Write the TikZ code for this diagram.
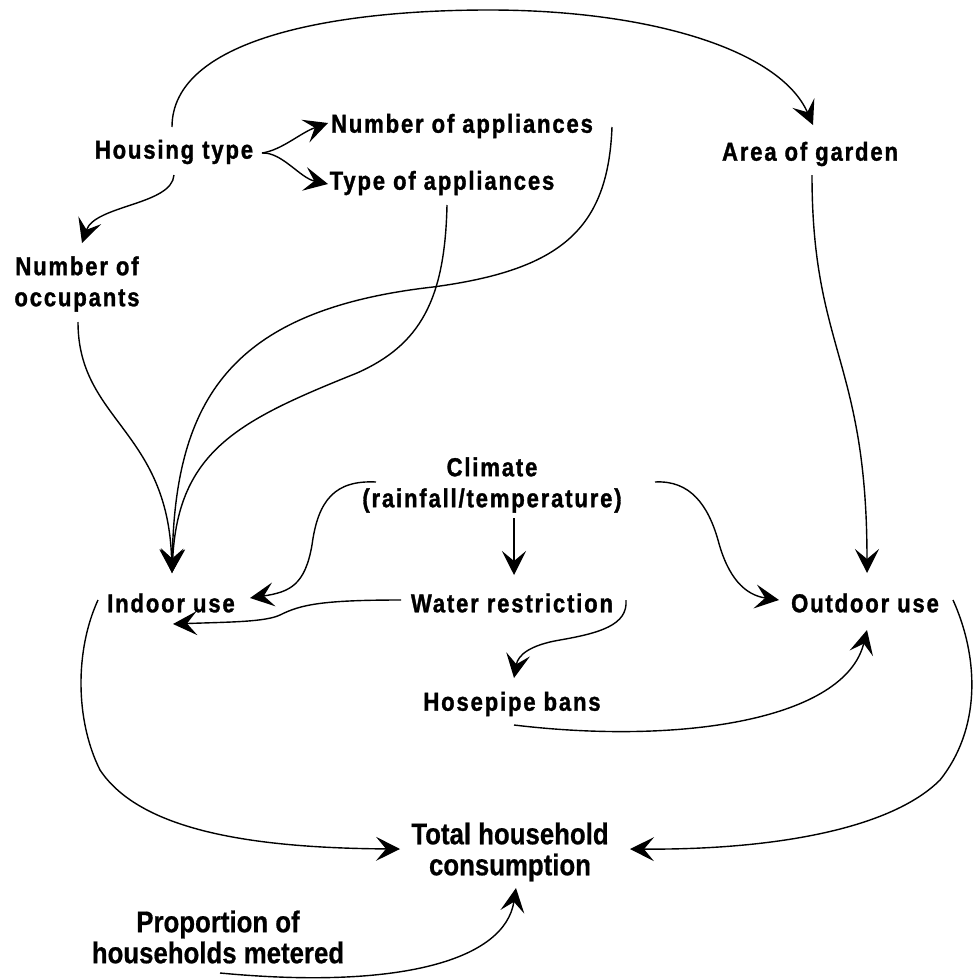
\documentclass[tikz,border=0pt]{standalone}
\usepackage{fontspec}
\usetikzlibrary{arrows.meta}
\newfontfamily\lblfont{Liberation Sans}[UprightFont={* Bold}, FakeStretch=0.85, LetterSpace=7, FakeBold=1.2]
\newfontfamily\lblfontb{Liberation Sans}[UprightFont={* Bold}, FakeStretch=0.86, FakeBold=0.6]
\tikzset{
  lbl/.style={inner sep=0pt, align=center, font=\lblfont\fontsize{26}{31}\selectfont},
  lblb/.style={inner sep=0pt, align=center, font=\lblfontb\fontsize{30}{31}\selectfont},
  arr/.style={line width=1.4pt, -{Stealth[length=24pt,width=24pt,inset=10pt]}},
}
\begin{document}
\begin{tikzpicture}[x=1pt,y=-1pt]
\useasboundingbox (0,0) rectangle (973,980);
% nodes
\node[lbl] (hous) at (174,152) {Housing type};
\node[lbl] (napp) at (462,126) {Number of appliances};
\node[lbl] (tapp) at (442,183) {Type of appliances};
\node[lbl] (garden) at (810,154) {Area of garden};
\node[lbl] (occ) at (77,284) {Number of\\occupants};
\node[lbl] (climate) at (492,485) {Climate\\(rainfall/temperature)};
\node[lbl] (indoor) at (171,603) {Indoor use};
\node[lbl] (water) at (512,603) {Water restriction};
\node[lbl] (outdoor) at (865,603) {Outdoor use};
\node[lbl] (hose) at (512,704) {Hosepipe bans};
\node[lblb] (total) at (510,852) {Total household\\consumption};
\node[lblb] (prop) at (218,937) {Proportion of\\households metered};
% connectors
\draw[arr] ([shift={(-2,-25)}]hous.center) .. controls (172,40) and (330,10) .. (489,10)
  .. controls (650,10) and (780,50) .. ([shift={(3,-29)}]garden.center);
\draw[arr] ([shift={(88,1)}]hous.center) .. controls (282,150) and (300,133) .. ([shift={(-134,-3)}]napp.center);
\draw[arr] ([shift={(88,1)}]hous.center) .. controls (282,152) and (300,178) .. ([shift={(-114,1)}]tapp.center);
\draw[arr] ([shift={(0,23)}]hous.center) .. controls (172,205) and (95,205) .. ([shift={(5,-41)}]occ.center);
\draw[arr] ([shift={(150,1)}]napp.center) .. controls (608,230) and (560,270) .. (433,287)
  .. controls (230,310) and (175,400) .. ([shift={(1,-30)}]indoor.center);
\draw[arr] ([shift={(5,22)}]tapp.center) .. controls (445,300) and (420,345) .. (357,373)
  .. controls (240,420) and (178,450) .. ([shift={(1,-30)}]indoor.center);
\draw[arr] ([shift={(1,38)}]occ.center) .. controls (78,420) and (168,430) .. ([shift={(1,-30)}]indoor.center);
\draw[arr] ([shift={(2,21)}]garden.center) .. controls (812,350) and (867,360) .. ([shift={(2,-30)}]outdoor.center);
\draw[arr] ([shift={(-116,-3)}]climate.center) .. controls (335,480) and (318,500) .. (312,545)
  .. controls (305,585) and (290,592) .. ([shift={(79,-5)}]indoor.center);
\draw[arr] ([shift={(22,33)}]climate.center) -- ([shift={(2,-28)}]water.center);
\draw[arr] ([shift={(163,-3)}]climate.center) .. controls (690,480) and (708,505) .. (718,540)
  .. controls (728,578) and (745,595) .. ([shift={(-86,-3)}]outdoor.center);
\draw[arr] ([shift={(-111,-3)}]water.center) .. controls (320,600) and (300,605) .. (280,615)
  .. controls (265,622) and (230,622) .. ([shift={(2,21)}]indoor.center);
\draw[arr] ([shift={(114,-3)}]water.center) .. controls (628,625) and (600,633) .. (560,640)
  .. controls (530,645) and (518,655) .. ([shift={(2,-26)}]hose.center);
\draw[arr] ([shift={(2,21)}]hose.center) .. controls (680,745) and (845,720) .. ([shift={(2,27)}]outdoor.center);
\draw[arr] ([shift={(-73,-3)}]indoor.center) .. controls (75,650) and (75,720) .. (100,770)
  .. controls (140,830) and (250,848) .. ([shift={(-110,-3)}]total.center);
\draw[arr] ([shift={(88,-3)}]outdoor.center) .. controls (980,660) and (980,730) .. (940,780)
  .. controls (890,830) and (770,850) .. ([shift={(120,-3)}]total.center);
\draw[arr] ([shift={(2,36)}]prop.center) .. controls (400,990) and (505,960) .. ([shift={(6,36)}]total.center);
\end{tikzpicture}
\end{document}
